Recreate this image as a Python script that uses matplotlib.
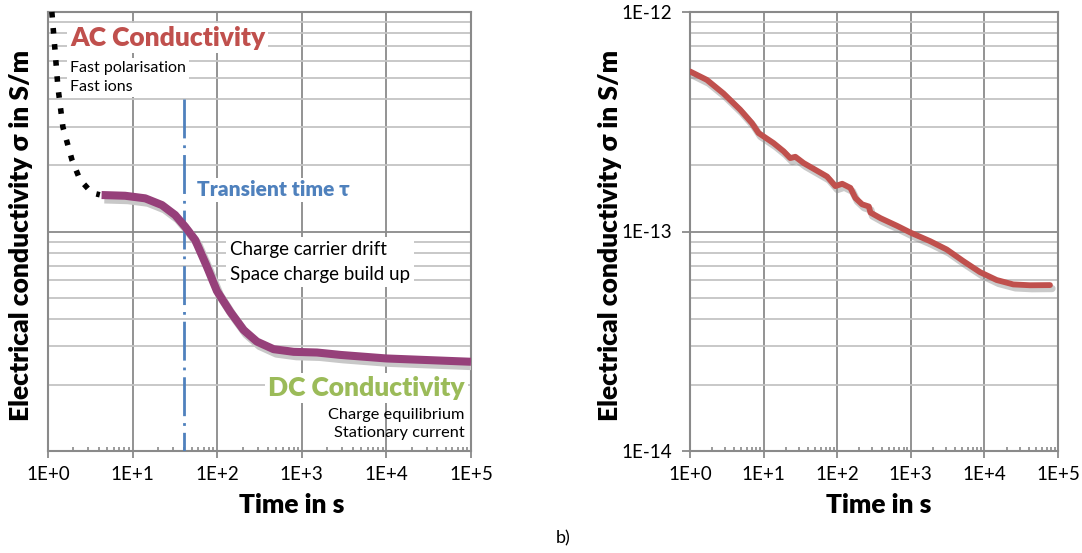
import numpy as np
import matplotlib
matplotlib.use('Agg')
import matplotlib.pyplot as plt
from matplotlib.transforms import offset_copy
from matplotlib.ticker import LogLocator, NullFormatter, FixedLocator

plt.rcParams['font.family'] = ['Lato', 'DejaVu Sans']

# Left panel: schematic conductivity curve
ac_time = [1.11, 1.21, 1.31, 1.5, 1.92, 2.39, 3.3, 4.1]
ac_sigma = [1.0e-10, 6.7e-11, 4.55e-11, 2.99e-11, 2.12e-11, 1.72e-11, 1.50e-11, 1.47e-11]

dc_time = [4.3, 8.15, 14.1, 22.2, 31.8, 41.8, 54.9, 75.5, 99.2, 142.5, 205, 295, 464, 800,
           1513, 2857, 1e4, 1e5]
dc_sigma = [1.466e-11, 1.455e-11, 1.416e-11, 1.32e-11, 1.189e-11, 1.051e-11, 9.15e-12, 6.92e-12,
            5.36e-12, 4.31e-12, 3.56e-12, 3.15e-12, 2.91e-12, 2.83e-12, 2.81e-12, 2.74e-12,
            2.64e-12, 2.55e-12]

tau = 40
tau_top = 4.0e-11

# Right panel: measured conductivity
meas_time = [1, 1.69, 2.84, 4.80, 6.93, 8.53, 13.6, 18.7, 23.0, 27.0, 35.0, 47.9, 72.8, 94.4, 117,
             151, 177, 218, 269, 283, 388, 655, 1007, 1824, 3076, 5170, 8710, 1.47e4, 2.47e4,
             4.17e4, 7.78e4]
meas_sigma = [5.36e-13, 4.91e-13, 4.26e-13, 3.59e-13, 3.12e-13, 2.81e-13, 2.53e-13, 2.32e-13,
              2.16e-13, 2.19e-13, 2.05e-13, 1.93e-13, 1.78e-13, 1.61e-13, 1.65e-13, 1.58e-13,
              1.42e-13, 1.33e-13, 1.30e-13, 1.22e-13, 1.15e-13, 1.06e-13, 9.86e-14, 9.04e-14,
              8.28e-14, 7.33e-14, 6.53e-14, 6.01e-14, 5.74e-14, 5.69e-14, 5.70e-14]

x_ticks = [1, 10, 100, 1e3, 1e4, 1e5]
x_labels = ['1E+0', '1E+1', '1E+2', '1E+3', '1E+4', '1E+5']
y_ticks_b = [1e-14, 1e-13, 1e-12]
y_labels_b = ['1E-14', '1E-13', '1E-12']

W, H = 1082, 553
fig = plt.figure(figsize=(W / 100, H / 100), dpi=100)

major_c = '#8a8a8a'
minor_c = '#c4c4c4'
heavy = 'heavy'


def style_axes(ax, ylo, yhi):
    ax.set_xscale('log')
    ax.set_yscale('log')
    ax.set_xlim(1, 1e5)
    ax.set_ylim(ylo, yhi)
    ax.xaxis.set_major_locator(FixedLocator(x_ticks))
    ax.set_xticklabels(x_labels)
    ax.xaxis.set_minor_locator(LogLocator(base=10, subs=np.arange(2, 10), numticks=20))
    ax.xaxis.set_minor_formatter(NullFormatter())
    ax.yaxis.set_minor_locator(LogLocator(base=10, subs=np.arange(2, 10), numticks=20))
    ax.yaxis.set_minor_formatter(NullFormatter())
    ax.grid(True, which='major', color=major_c, lw=1.3)
    ax.grid(True, which='minor', axis='y', color=minor_c, lw=1.3)
    for s in ax.spines.values():
        s.set_color(major_c)
        s.set_linewidth(1.5)
    ax.tick_params(axis='x', which='major', direction='out', length=5, width=1.3,
                   color=major_c, labelsize=13.5, pad=6)
    ax.tick_params(axis='x', which='minor', direction='in', length=3, width=1.2,
                   color=major_c, top=False)
    ax.tick_params(axis='y', which='minor', length=0)
    ax.set_xlabel('Time in s', fontsize=19, fontweight=heavy)
    ax.set_ylabel('Electrical conductivity σ in S/m', fontsize=19, fontweight=heavy)
    ax.set_axisbelow(True)


# ---- left panel ----
ax1 = fig.add_axes([48 / W, (H - 451) / H, 423 / W, 439 / H])
style_axes(ax1, 1e-12, 1e-10)
ax1.tick_params(axis='y', which='major', length=0, labelleft=False)
ax1.yaxis.set_label_coords(-15 / 423, 0.49)
ax1.xaxis.set_label_coords((292 - 48) / 423, -42 / 439)


def ax1_xy(px, py):
    # pixel position in the figure -> axes fraction of the left panel
    return (px - 48) / 423, 1 - (py - 12) / 439


shadow = offset_copy(ax1.transData, fig=fig, x=2, y=-3, units='points')
ax1.plot(dc_time, dc_sigma, color='#c8c8c8', lw=6.2, solid_capstyle='butt',
         solid_joinstyle='round', transform=shadow, zorder=3)
ax1.plot(dc_time, dc_sigma, color='#96407a', lw=5.8, solid_capstyle='butt',
         solid_joinstyle='round', zorder=4)
ax1.plot(ac_time, ac_sigma, color='black', lw=4.0, linestyle=(0, (1, 1.9)),
         zorder=4, clip_on=False)
ax1.plot([tau, tau], [tau_top, 1e-12], color='#4f81bd', lw=2,
         linestyle=(0, (14, 2.5, 1, 2.5)), zorder=3)

box = dict(facecolor='white', edgecolor='none', pad=2)
ax1.text(*ax1_xy(70, 38), 'AC Conductivity', transform=ax1.transAxes,
         fontsize=19, fontweight=heavy, color='#c0504d', va='center', ha='left', bbox=box)
ax1.text(*ax1_xy(70, 77.5), 'Fast polarisation\nFast ions', transform=ax1.transAxes,
         fontsize=11.5, color='black', va='center', ha='left', linespacing=1.5, bbox=box)
ax1.text(*ax1_xy(197, 190), 'Transient time τ', transform=ax1.transAxes,
         fontsize=15, fontweight=heavy, color='#4f81bd', va='center', ha='left', bbox=box)
ax1.text(*ax1_xy(230, 262), 'Charge carrier drift\nSpace charge build up',
         transform=ax1.transAxes, fontsize=13.5, color='black', va='center', ha='left',
         linespacing=1.55, bbox=dict(facecolor='white', edgecolor='none', pad=3))
ax1.text(*ax1_xy(465, 388), 'DC Conductivity', transform=ax1.transAxes,
         fontsize=19, fontweight=heavy, color='#9bbb59', va='center', ha='right', bbox=box)
ax1.text(*ax1_xy(465, 424), 'Charge equilibrium\nStationary current',
         transform=ax1.transAxes, fontsize=11.8, color='black', va='center', ha='right',
         linespacing=1.4, multialignment='right')

# ---- right panel ----
ax2 = fig.add_axes([690 / W, (H - 451) / H, 368 / W, 439 / H])
style_axes(ax2, 1e-14, 1e-12)
ax2.yaxis.set_major_locator(FixedLocator(y_ticks_b))
ax2.set_yticklabels(y_labels_b)
ax2.tick_params(axis='y', which='major', direction='out', length=6, width=1.3,
                color=major_c, labelsize=13.5, pad=7)
ax2.yaxis.set_label_coords(-68 / 368, 0.49)
ax2.xaxis.set_label_coords((879 - 690) / 368, -42 / 439)

shadow2 = offset_copy(ax2.transData, fig=fig, x=1.5, y=-2.5, units='points')
ax2.plot(meas_time, meas_sigma, color='#8a8a8a', alpha=0.45, lw=5.2, transform=shadow2,
         solid_capstyle='round', solid_joinstyle='round', zorder=3)
ax2.plot(meas_time, meas_sigma, color='#c0504d', lw=4.2, solid_capstyle='round',
         solid_joinstyle='round', zorder=4)

fig.text(563 / W, 1 - 538 / H, 'b)', fontsize=13, ha='center', va='center')

fig.savefig('out.png', dpi=100)
